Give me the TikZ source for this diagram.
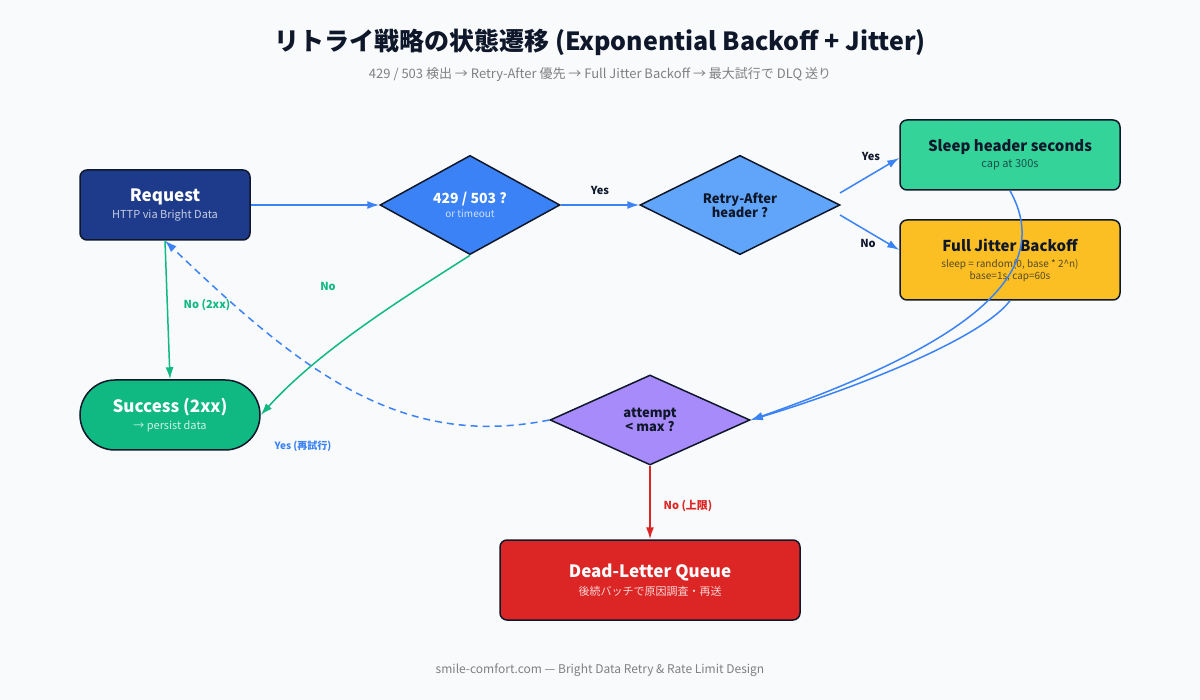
\documentclass[tikz,border=0pt]{standalone}
\usepackage{fontspec}
\setmainfont{Noto Sans CJK JP}
\usetikzlibrary{shapes.geometric,arrows.meta}
\definecolor{bg}{HTML}{F8FAFC}
\definecolor{ink}{HTML}{0F172A}
\definecolor{req}{HTML}{1E3A8A}
\definecolor{dia}{HTML}{3B82F6}
\definecolor{diab}{HTML}{60A5FA}
\definecolor{sleepc}{HTML}{34D399}
\definecolor{jitc}{HTML}{FBBF24}
\definecolor{okc}{HTML}{10B981}
\definecolor{attc}{HTML}{A78BFA}
\definecolor{dlqc}{HTML}{DC2626}
\definecolor{gline}{HTML}{10B981}
\definecolor{bline}{HTML}{3B82F6}
\tikzset{
  box/.style={draw=ink, line width=1.5pt, rounded corners=7pt, align=center, minimum width=#1, inner sep=0pt},
  dec/.style={diamond, draw=ink, line width=1.5pt, align=center, minimum width=180pt, minimum height=90pt, inner sep=0pt},
  link/.style={draw=bline, line width=1.5pt, arrows={-Latex[length=12pt,width=8pt]}},
  ok link/.style={link, draw=gline},
  lab/.style={font=\fontsize{11}{13}\selectfont\bfseries},
  ttl/.style={font=\fontsize{16}{20}\selectfont\bfseries},
  sub/.style={font=\fontsize{11}{14}\selectfont}
}
\begin{document}
\begin{tikzpicture}[x=1pt, y=-1pt]
  \fill[bg] (0,0) rectangle (1200,700);
  \useasboundingbox (0,0) rectangle (1200,700);
  \node[font=\fontsize{25}{30}\selectfont\bfseries, text=ink] (title) at (600,42) {リトライ戦略の状態遷移 (Exponential Backoff + Jitter)};
  \node[font=\fontsize{13}{16}\selectfont, text=gray] (subtitle) at (600,75) {429 / 503 検出 → Retry-After 優先 → Full Jitter Backoff → 最大試行で DLQ 送り};

  \node[box=170pt, fill=req, minimum height=70pt, text=white] (request) at (165,205) {{\fontsize{17}{20}\selectfont\bfseries Request}\\[3pt]{\fontsize{11}{14}\selectfont\color{white!75!req}HTTP via Bright Data}};
  \node[dec, fill=dia, text=white] (check) at (470,205) {{\fontsize{14}{17}\selectfont\bfseries 429 / 503 ?}\\[2pt]{\fontsize{10}{12}\selectfont\color{white!75!dia}or timeout}};
  \node[dec, fill=diab, minimum width=200pt, text=ink] (retryafter) at (740,205) {{\fontsize{13}{15}\selectfont\bfseries Retry-After}\\{\fontsize{13}{15}\selectfont\bfseries header ?}};
  \node[box=220pt, fill=sleepc, minimum height=70pt, text=ink] (sleep) at (1010,155) {{\fontsize{15}{18}\selectfont\bfseries Sleep header seconds}\\[4pt]{\fontsize{11}{14}\selectfont\color{ink!70!sleepc}cap at 300s}};
  \node[box=220pt, fill=jitc, minimum height=80pt, text=ink] (jitter) at (1010,260) {{\fontsize{15}{18}\selectfont\bfseries Full Jitter Backoff}\\[4pt]{\fontsize{10}{13}\selectfont\color{ink!70!jitc}sleep = random(0, base * 2\^{}n)}\\{\fontsize{10}{13}\selectfont\color{ink!70!jitc}base=1s, cap=60s}};
  \node[box=180pt, fill=okc, minimum height=70pt, rounded corners=35pt, text=white] (success) at (170,415) {{\fontsize{17}{20}\selectfont\bfseries Success (2xx)}\\[3pt]{\fontsize{11}{14}\selectfont\color{white!80!okc}→ persist data}};
  \node[dec, fill=attc, minimum width=200pt, text=ink] (attempt) at (650,420) {{\fontsize{13}{15}\selectfont\bfseries attempt}\\{\fontsize{13}{15}\selectfont\bfseries < max ?}};
  \node[box=300pt, fill=dlqc, minimum height=80pt, text=white] (dlq) at (650,580) {{\fontsize{17}{20}\selectfont\bfseries Dead-Letter Queue}\\[4pt]{\fontsize{11}{14}\selectfont\color{white!80!dlqc}後続バッチで原因調査・再送}};

  \draw[link] (request.east) -- (check.west);
  \draw[link] (check.east) -- (retryafter.west);
  \node[lab, text=ink] (yes1) at (600,190) {Yes};
  \draw[link] (retryafter.north east) ++(0,0) coordinate (ra1) (840,193) -- (sleep.west |- 0,158);
  \draw[link] (840,215) -- (jitter.west |- 0,250);
  \node[lab, text=ink] (yes2) at (871,156) {Yes};
  \node[lab, text=ink] (no2) at (868,243) {No};
  \draw[ok link] (request.south) -- (success.north);
  \node[lab, text=gline] (no2xx) at (207,305) {No (2xx)};
  \draw[ok link] (check.south) .. controls (400,300) and (320,350) .. (success.east);
  \node[lab, text=gline] (no1) at (328,286) {No};
  \draw[link] (sleep.south) .. controls (1060,280) and (950,350) .. (attempt.east);
  \draw[link] (jitter.south) .. controls (980,340) and (850,390) .. (attempt.east);
  \draw[link, dashed, dash pattern=on 7pt off 5pt] (attempt.west) .. controls (400,450) and (300,370) .. (request.south);
  \node[lab, text=bline, font=\fontsize{10}{12}\selectfont\bfseries] (retry) at (303,446) {Yes (再試行)};
  \draw[link, draw=dlqc] (attempt.south) -- (dlq.north);
  \node[lab, text=dlqc] (nomax) at (688,506) {No (上限)};

  \node[font=\fontsize{12}{14}\selectfont, text=gray] (footer) at (600,670) {smile-comfort.com — Bright Data Retry \& Rate Limit Design};
\end{tikzpicture}
\end{document}
